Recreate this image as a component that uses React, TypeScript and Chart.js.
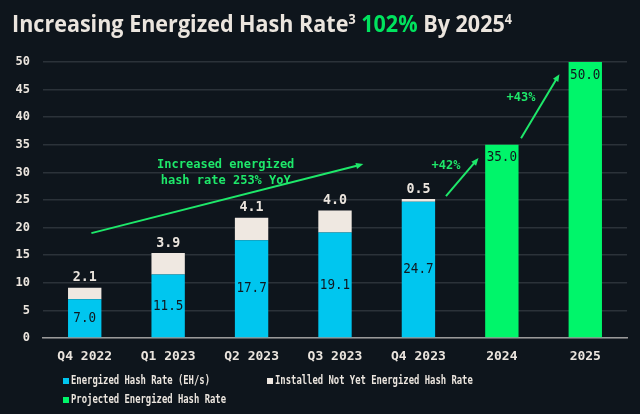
import React, { useEffect, useRef } from "react";
import { Chart, registerables } from "chart.js";

Chart.register(...registerables);

const categories = ["Q4 2022", "Q1 2023", "Q2 2023", "Q3 2023", "Q4 2023", "2024", "2025"];
const energized = [7.0, 11.5, 17.7, 19.1, 24.7, null, null];
const installed = [2.1, 3.9, 4.1, 4.0, 0.5, null, null];
const projected = [null, null, null, null, null, 35.0, 50.0];
const seriesNames = [
  "Energized Hash Rate (EH/s)",
  "Installed Not Yet Energized Hash Rate",
  "Projected Energized Hash Rate",
];
const yMax = 50;
const yStep = 5;

const BG = "#0e151c";
const CYAN = "#00c6ef";
const BEIGE = "#efe8e1";
const GREEN = "#00f56a";
const TEXT = "#ebe5de";
const ANNO = "#1ee86a";
const MONO = '"DejaVu Sans Mono", monospace';

// annotations in data coordinates (category index, value)
const arrows = [
  { from: [0.08, 19.0], to: [3.34, 31.5] },
  { from: [4.33, 25.7], to: [4.72, 32.6] },
  { from: [5.23, 36.2], to: [5.69, 47.8] },
];
const notes = [
  { text: "Increased energized", at: [1.69, 31.4] },
  { text: "hash rate 253% YoY", at: [1.69, 28.4] },
  { text: "+42%", at: [4.33, 31.2] },
  { text: "+43%", at: [5.23, 43.5] },
];

function condensedText(ctx: any, text: string, x: number, y: number, sx: number) {
  ctx.save();
  ctx.translate(x, y);
  ctx.scale(sx, 1);
  ctx.fillText(text, 0, 0);
  ctx.restore();
}

const customPlugin = {
  id: "custom",
  beforeDraw(chart: any) {
    const ctx = chart.ctx;
    ctx.save();
    ctx.fillStyle = BG;
    ctx.fillRect(0, 0, chart.width, chart.height);
    // title
    const segs = [
      { t: "Increasing Energized Hash Rate", c: TEXT, sup: false },
      { t: "3", c: TEXT, sup: true },
      { t: " 102%", c: "#00e35e", sup: false },
      { t: " By 2025", c: TEXT, sup: false },
      { t: "4", c: TEXT, sup: true },
    ];
    const big = 'bold 24px "Open Sans", sans-serif';
    const small = 'bold 14px "Open Sans", sans-serif';
    let total = 0;
    const widths = segs.map((s) => {
      ctx.font = s.sup ? small : big;
      const w = ctx.measureText(s.t).width;
      total += w;
      return w;
    });
    const scale = Math.min(1, 500 / total);
    ctx.translate(12, 32);
    ctx.scale(scale, 1);
    ctx.textBaseline = "alphabetic";
    ctx.textAlign = "left";
    let x = 0;
    segs.forEach((s, i) => {
      ctx.font = s.sup ? small : big;
      ctx.fillStyle = s.c;
      ctx.fillText(s.t, x, s.sup ? -8 : 0);
      x += widths[i];
    });
    ctx.restore();
  },
  afterDatasetsDraw(chart: any) {
    const ctx = chart.ctx;
    const xs = chart.scales.x;
    const ys = chart.scales.y;
    ctx.save();
    ctx.textAlign = "center";
    ctx.textBaseline = "middle";
    chart.data.datasets.forEach((ds: any, di: number) => {
      const meta = chart.getDatasetMeta(di);
      meta.data.forEach((bar: any, i: number) => {
        const v = ds.data[i];
        if (v === null || v === undefined) return;
        const label = v.toFixed(1);
        if (di === 0) {
          ctx.font = `14px ${MONO}`;
          ctx.fillStyle = "#10171e";
          condensedText(ctx, label, bar.x, (bar.y + bar.base) / 2, 0.9);
        } else if (di === 1) {
          ctx.font = `bold 14px ${MONO}`;
          ctx.fillStyle = TEXT;
          condensedText(ctx, label, bar.x, bar.y - 10, 0.95);
        } else {
          ctx.font = `14px ${MONO}`;
          ctx.fillStyle = "#10171e";
          condensedText(ctx, label, bar.x, bar.y + 13, 0.9);
        }
      });
    });
    // arrows
    ctx.strokeStyle = ANNO;
    ctx.fillStyle = ANNO;
    ctx.lineWidth = 2;
    arrows.forEach((a) => {
      const x1 = xs.getPixelForValue(a.from[0]);
      const y1 = ys.getPixelForValue(a.from[1]);
      const x2 = xs.getPixelForValue(a.to[0]);
      const y2 = ys.getPixelForValue(a.to[1]);
      const ang = Math.atan2(y2 - y1, x2 - x1);
      const hl = 8;
      ctx.beginPath();
      ctx.moveTo(x1, y1);
      ctx.lineTo(x2 - Math.cos(ang) * hl * 0.6, y2 - Math.sin(ang) * hl * 0.6);
      ctx.stroke();
      ctx.beginPath();
      ctx.moveTo(x2, y2);
      ctx.lineTo(x2 - hl * Math.cos(ang - 0.4), y2 - hl * Math.sin(ang - 0.4));
      ctx.lineTo(x2 - hl * Math.cos(ang + 0.4), y2 - hl * Math.sin(ang + 0.4));
      ctx.closePath();
      ctx.fill();
    });
    ctx.font = `bold 12px ${MONO}`;
    notes.forEach((n) => {
      ctx.fillText(n.text, xs.getPixelForValue(n.at[0]), ys.getPixelForValue(n.at[1]));
    });
    ctx.restore();
  },
  afterDraw(chart: any) {
    // legend
    const ctx = chart.ctx;
    ctx.save();
    ctx.textBaseline = "middle";
    ctx.textAlign = "left";
    const slots = [
      [63, 381],
      [267, 381],
      [63, 400],
    ];
    chart.data.datasets.forEach((ds: any, i: number) => {
      const [x, y] = slots[i];
      ctx.fillStyle = ds.backgroundColor;
      ctx.fillRect(x, y - 3, 6, 6);
      ctx.font = `bold 12px ${MONO}`;
      ctx.fillStyle = TEXT;
      condensedText(ctx, ds.label, x + 8, y, 0.74);
    });
    ctx.restore();
  },
};

export default function App() {
  const ref = useRef<HTMLCanvasElement | null>(null);
  useEffect(() => {
    if (!ref.current) return;
    const chart = new Chart(ref.current, {
      type: "bar",
      data: {
        labels: categories,
        datasets: [
          { label: seriesNames[0], data: energized, backgroundColor: CYAN },
          { label: seriesNames[1], data: installed, backgroundColor: BEIGE },
          { label: seriesNames[2], data: projected, backgroundColor: GREEN },
        ],
      },
      options: {
        animation: false,
        responsive: false,
        maintainAspectRatio: false,
        datasets: { bar: { categoryPercentage: 0.8, barPercentage: 0.5 } },
        layout: { padding: { left: 16, right: 13, top: 62, bottom: 50 } },
        plugins: { legend: { display: false }, title: { display: false }, tooltip: { enabled: false } },
        scales: {
          x: {
            stacked: true,
            grid: { display: false, drawTicks: false },
            border: { display: true, color: "#9a9a9a", width: 1.5 },
            ticks: { color: TEXT, font: { family: MONO, size: 13, weight: "bold" }, padding: 11 },
            afterFit: (s: any) => { s.height = 26; },
          },
          y: {
            stacked: true,
            min: 0,
            max: yMax,
            grid: { color: "#2b3239", lineWidth: 1.5, drawTicks: false },
            border: { display: false },
            ticks: { stepSize: yStep, color: TEXT, font: { family: MONO, size: 12, weight: "bold" }, padding: 13 },
            afterFit: (s: any) => { s.width = 27; },
          },
        },
      },
      plugins: [customPlugin],
    });
    return () => chart.destroy();
  }, []);
  return (
    <div style={{ position: "fixed", left: 0, top: 0, width: 640, height: 414, background: BG }}>
      <canvas ref={ref} width={640} height={414} style={{ display: "block" }} />
    </div>
  );
}
